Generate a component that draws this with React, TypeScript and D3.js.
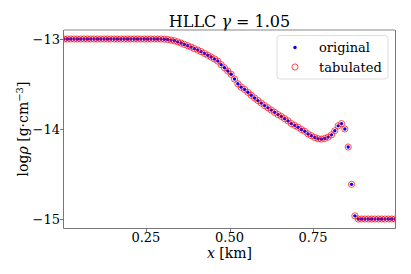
import * as d3 from "d3";

// cell centres [km]
const xCells = [
  0.005, 0.015, 0.025, 0.035, 0.045, 0.055, 0.065, 0.075, 0.085, 0.095,
  0.105, 0.115, 0.125, 0.135, 0.145, 0.155, 0.165, 0.175, 0.185, 0.195,
  0.205, 0.215, 0.225, 0.235, 0.245, 0.255, 0.265, 0.275, 0.285, 0.295,
  0.305, 0.315, 0.325, 0.335, 0.345, 0.355, 0.365, 0.375, 0.385, 0.395,
  0.405, 0.415, 0.425, 0.435, 0.445, 0.455, 0.465, 0.475, 0.485, 0.495,
  0.505, 0.515, 0.525, 0.535, 0.545, 0.555, 0.565, 0.575, 0.585, 0.595,
  0.605, 0.615, 0.625, 0.635, 0.645, 0.655, 0.665, 0.675, 0.685, 0.695,
  0.705, 0.715, 0.725, 0.735, 0.745, 0.755, 0.765, 0.775, 0.785, 0.795,
  0.805, 0.815, 0.825, 0.835, 0.845, 0.855, 0.865, 0.875, 0.885, 0.895,
  0.905, 0.915, 0.925, 0.935, 0.945, 0.955, 0.965, 0.975, 0.985, 0.995,
];

// log rho (original and tabulated overlap)
const logRhoOriginal = [
  -13.0, -13.0, -13.0, -13.0, -13.0, -13.0, -13.0, -13.0, -13.0, -13.0,
  -13.0, -13.0, -13.0, -13.0, -13.0, -13.0, -13.0, -13.0, -13.0, -13.0,
  -13.0, -13.0, -13.0, -13.0, -13.0, -13.0, -13.0, -13.0, -13.0, -13.0,
  -13.002, -13.006, -13.012, -13.02, -13.032, -13.045, -13.06, -13.075, -13.09, -13.107,
  -13.123, -13.14, -13.16, -13.18, -13.2, -13.222, -13.245, -13.285, -13.32, -13.356,
  -13.392, -13.445, -13.498, -13.535, -13.56, -13.592, -13.625, -13.655, -13.685, -13.712,
  -13.74, -13.765, -13.79, -13.815, -13.84, -13.86, -13.885, -13.91, -13.94, -13.96,
  -13.98, -14.005, -14.025, -14.055, -14.075, -14.095, -14.108, -14.112, -14.105, -14.09,
  -14.065, -14.02, -13.965, -13.94, -14.0, -14.2, -14.615, -14.965, -15.0, -15.0,
  -15.0, -15.0, -15.0, -15.0, -15.0, -15.0, -15.0, -15.0, -15.0, -15.0,
];
const logRhoTabulated = logRhoOriginal;

const xTicks = [0.25, 0.5, 0.75];
const xTickLabels = ["0.25", "0.50", "0.75"];
const yTicks = [-13, -14, -15];
const yTickLabels = ["\u221213", "\u221214", "\u221215"];

const W = 411;
const H = 274;
const box = { left: 64, top: 30, right: 395, bottom: 228 };
const FONT = "'DejaVu Serif', serif";

export default function App() {
  const x = d3.scaleLinear().domain([0.005, 0.995]).range([box.left, box.right]);
  const y = d3.scaleLinear().domain([-15.1, -12.9]).range([box.bottom, box.top]);
  const cx = (w: number) => box.left + (box.right - box.left) / 2;

  return (
    <svg
      width={W}
      height={H}
      style={{ position: "absolute", left: 0, top: 0, background: "#fff" }}
      fontFamily={FONT}
    >
      <defs>
        <clipPath id="plot">
          <rect x={box.left} y={box.top} width={box.right - box.left} height={box.bottom - box.top} />
        </clipPath>
      </defs>

      {/* title */}
      <text x={cx(0)} y={26.5} fontSize={16} textAnchor="middle" fill="#000">
        HLLC <tspan fontStyle="italic">γ</tspan>
        <tspan> = 1.05</tspan>
      </text>

      {/* data */}
      <g clipPath="url(#plot)">
        {xCells.map((v, i) => (
          <circle key={"o" + i} cx={x(v)} cy={y(logRhoOriginal[i])} r={1.7} fill="blue" />
        ))}
        {xCells.map((v, i) => (
          <circle
            key={"t" + i}
            cx={x(v)}
            cy={y(logRhoTabulated[i])}
            r={3.1}
            fill="none"
            stroke="red"
            strokeWidth={0.7}
          />
        ))}
      </g>

      {/* spines */}
      <line x1={box.left} x2={box.right} y1={30} y2={30} stroke="#888" />
      <line x1={box.left - 0.5} x2={box.left - 0.5} y1={box.top} y2={box.bottom + 0.5} stroke="#777" />
      <line x1={box.right + 0.5} x2={box.right + 0.5} y1={box.top} y2={box.bottom + 0.5} stroke="#777" />
      <line x1={box.left - 0.5} x2={box.right + 0.5} y1={box.bottom + 0.5} y2={box.bottom + 0.5} stroke="#777" />

      {/* x ticks */}
      {xTicks.map((t, i) => (
        <g key={"xt" + i}>
          <line
            x1={Math.round(x(t)) + 0.5}
            x2={Math.round(x(t)) + 0.5}
            y1={box.bottom + 1}
            y2={box.bottom + 4}
            stroke="#777"
          />
          <text x={x(t)} y={242} fontSize={13} textAnchor="middle" fill="#000">
            {xTickLabels[i]}
          </text>
        </g>
      ))}

      {/* y ticks */}
      {yTicks.map((t, i) => (
        <g key={"yt" + i}>
          <line
            x1={box.left - 4}
            x2={box.left - 1}
            y1={Math.round(y(t)) + 0.5}
            y2={Math.round(y(t)) + 0.5}
            stroke="#777"
          />
          <text x={60} y={y(t) + 4.5} fontSize={13} textAnchor="end" fill="#000">
            {yTickLabels[i]}
          </text>
        </g>
      ))}

      {/* axis labels */}
      <text x={cx(0)} y={258} fontSize={14} textAnchor="middle" fill="#000">
        <tspan fontStyle="italic">x</tspan> [km]
      </text>
      <text
        transform={`translate(28,${(box.top + box.bottom) / 2}) rotate(-90)`}
        fontSize={14}
        textAnchor="middle"
        fill="#000"
      >
        log<tspan fontStyle="italic">ρ</tspan> [g·cm
        <tspan dy={-5} fontSize={10}>−3</tspan>
        <tspan dy={5}>]</tspan>
      </text>

      {/* legend */}
      <rect
        x={277}
        y={35.5}
        width={111}
        height={43.5}
        rx={3}
        fill="#fff"
        fillOpacity={0.8}
        stroke="#ddd"
        strokeWidth={1}
      />
      <circle cx={295} cy={47.5} r={1.7} fill="blue" />
      <text x={319} y={52} fontSize={13} fill="#000">
        original
      </text>
      <circle cx={295} cy={67} r={3.1} fill="none" stroke="red" strokeWidth={0.7} />
      <text x={319} y={71.5} fontSize={13} fill="#000">
        tabulated
      </text>
    </svg>
  );
}
